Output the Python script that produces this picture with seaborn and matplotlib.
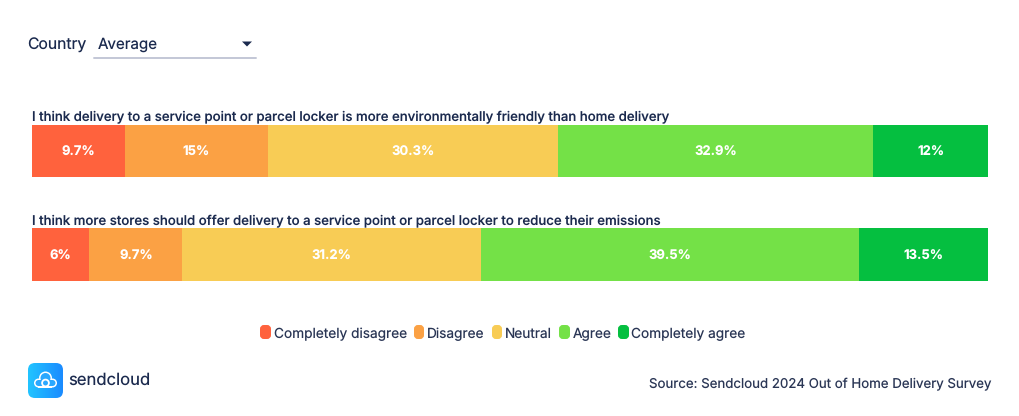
import numpy as np
import pandas as pd
import matplotlib.pyplot as plt
import seaborn as sns
from matplotlib.colors import LinearSegmentedColormap
from matplotlib.patches import Circle, FancyBboxPatch, Polygon, Rectangle

questions = ['I think delivery to a service point or parcel locker is more environmentally friendly than home delivery',
             'I think more stores should offer delivery to a service point or parcel locker to reduce their emissions']
levels = ['Completely disagree', 'Disagree', 'Neutral', 'Agree', 'Completely agree']
colors = ['#FF623D', '#FBA144', '#F8CC55', '#74E147', '#05BF40']
first_row = [9.7, 15, 30.3, 32.9, 12]
second_row = [6, 9.7, 31.2, 39.5, 13.5]

navy = '#1B2A4E'

sns.set_theme(style='white')
plt.rcParams['font.family'] = ['Inter', 'DejaVu Sans']
plt.rcParams['text.hinting'] = 'no_hinting'
plt.rcParams['text.hinting_factor'] = 1

df = pd.DataFrame({'question': np.repeat(questions, 5),
                   'level': levels * 2,
                   'value': first_row + second_row})
# stacked bars: cumulative totals, longest drawn first so the shorter ones sit on top
df['cum'] = df.groupby('question')['value'].cumsum()
df['mid'] = df['cum'] - df['value'] / 2

fig = plt.figure(figsize=(10.2, 4.16), dpi=100)

# bar rows are centred on y=151 and y=254.5 px, spacing 103.5 px
W, H = 1020, 416
top, bottom = 151 - 103.5 / 2, 254.5 + 103.5 / 2
ax = fig.add_axes([32 / W, 1 - bottom / H, 956 / W, (bottom - top) / H])
sns.barplot(data=df, y='question', x='cum', hue='level', hue_order=levels[::-1],
            palette=dict(zip(levels, colors)), order=questions, dodge=False,
            width=0.51, saturation=1, legend=False, linewidth=0, ax=ax)
ax.set_xlim(0, 99.9)
ax.set_ylim(1.5, -0.5)
ax.axis('off')

for i, q in enumerate(questions):
    rows = df[df['question'] == q]
    for val, mid in zip(rows['value'], rows['mid']):
        ax.annotate(f'{val:g}%', (mid, i), xytext=(0, -1), textcoords='offset points',
                    color='white', fontsize=9.4, fontweight='bold', ha='center', va='center')

# everything else is placed in pixels on a full figure overlay
over = fig.add_axes([0, 0, 1, 1])
over.set_xlim(0, W)
over.set_ylim(H, 0)
over.axis('off')
over.patch.set_alpha(0)

over.text(32, 117, questions[0], color=navy, fontsize=9.5, fontweight='medium', va='center')
over.text(32, 221, questions[1], color=navy, fontsize=9.5, fontweight='medium', va='center')

# dropdown
over.text(27.5, 45, 'Country', color=navy, fontsize=11.3, va='center')
over.text(98, 45, 'Average', color=navy, fontsize=10.9, va='center')
over.add_patch(Polygon([[242, 41.5], [252, 41.5], [247, 46.5]], color=navy, lw=0))
over.plot([94, 256], [58, 58], color='#C3C7D6', lw=1.4)

# legend
swatch_x = [260, 414, 492, 559, 618]
swatch_w = [11, 10, 10, 11, 11]
label_x = [274, 427, 505, 573, 631]
for sx, sw, lx, lab, col in zip(swatch_x, swatch_w, label_x, levels, colors):
    over.add_patch(FancyBboxPatch((sx + 2, 327), sw - 4, 10, boxstyle='round,pad=0,rounding_size=2',
                                  fc=col, ec=col, lw=4 / 1.39))
    over.text(lx, 334, lab, color='#2A3655', fontsize=9.85, va='center')

# source
over.text(991, 384, 'Source: Sendcloud 2024 Out of Home Delivery Survey', color='#2A3655',
          fontsize=9.55, ha='right', va='center')

# logo
box = FancyBboxPatch((31, 366), 29, 29, boxstyle='round,pad=3,rounding_size=7', fc='none', ec='none')
over.add_patch(box)
grad = np.linspace(0, 1, 64)[None, :]
img = over.imshow(grad, extent=[28, 63, 398, 363], aspect='auto', zorder=2,
                  cmap=LinearSegmentedColormap.from_list('logo', ['#22C4FF', '#1A8BFF']))
img.set_clip_path(box)
over.set_xlim(0, W)
over.set_ylim(H, 0)
for (cx, cy, r) in [(45.5, 378, 6.5), (38.5, 383, 4.5), (52.5, 383, 4.5)]:
    over.add_patch(Circle((cx, cy), r, fc='white', ec='none', zorder=3))
over.add_patch(Rectangle((38.5, 383), 14, 4.5, fc='white', ec='none', zorder=3))
for (cx, cy, r) in [(45.5, 378, 5), (38.5, 383, 3), (52.5, 383, 3)]:
    over.add_patch(Circle((cx, cy), r, fc='#2AA8FF', ec='none', zorder=4))
over.add_patch(Rectangle((38.5, 380), 14, 6, fc='#2AA8FF', ec='none', zorder=4))
over.add_patch(Circle((45.5, 383), 3.4, fc='none', ec='white', lw=1.3, zorder=5))
over.text(68.5, 380, 'sendcloud', color=navy, fontsize=12, va='center')

fig.savefig('out.png', dpi=100)
